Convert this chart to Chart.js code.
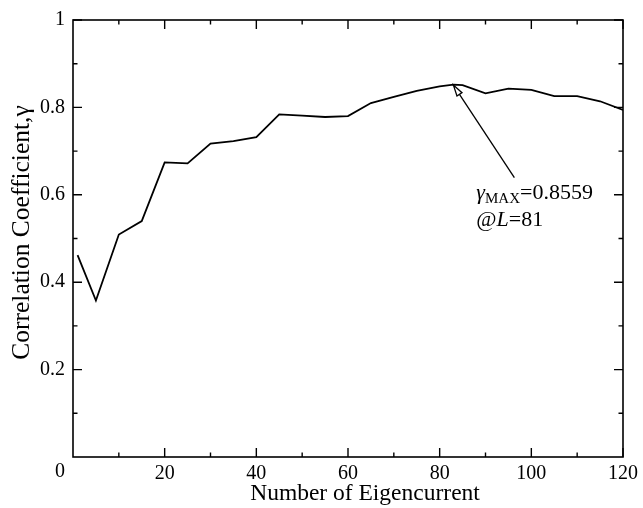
<!DOCTYPE html>
<html><head><meta charset="utf-8">
<script src="https://cdn.jsdelivr.net/npm/chart.js@4/dist/chart.umd.min.js"></script>
<style>html,body{margin:0;padding:0;background:#fff}#wrap{width:643px;height:508px}</style>
</head><body><div id="wrap"><canvas id="c" width="643" height="508"></canvas></div>
<script>
// ---- data ----
const eigenCount  = [1, 5, 10, 15, 20, 25, 30, 35, 40, 45, 50, 55, 60, 65, 70, 75, 80, 83, 85, 90, 95, 100, 105, 110, 115, 120];
const correlation = [0.462, 0.358, 0.509, 0.540, 0.674, 0.672, 0.717, 0.723, 0.732, 0.784, 0.781, 0.778, 0.780, 0.810, 0.824, 0.838, 0.848, 0.852, 0.851, 0.832, 0.843, 0.840, 0.826, 0.826, 0.814, 0.794];
const xTickValues = [20, 40, 60, 80, 100, 120];
const xTickLabels = ['20', '40', '60', '80', '100', '120'];
const xMinorValues = [10, 30, 50, 70, 90, 110];
const yTickValues = [0.2, 0.4, 0.6, 0.8, 1];
const yTickLabels = ['0.2', '0.4', '0.6', '0.8', '1'];
const yMinorValues = [0.1, 0.3, 0.5, 0.7, 0.9];
const originLabel = '0';
const xTitle = 'Number of Eigencurrent';
const yTitle = 'Correlation Coefficient,γ';
const peakText = { value: '0.8559', at: '81' };

// ---- annotation placement (data coords) ----
const arrowTip  = { x: 83, y: 0.851 };
const arrowTail = { x: 96.3, y: 0.6395 };
const textAnchor = { x: 88.0, y: 0.5896 };

const FONT = '"Liberation Serif", "Times New Roman", serif';

const framePlugin = {
  id: 'frame',
  afterDatasetsDraw(chart) {
    const { ctx, chartArea: a, scales: { x, y } } = chart;
    ctx.save();
    ctx.strokeStyle = '#000';
    ctx.lineWidth = 1.6;
    ctx.strokeRect(a.left, a.top, a.right - a.left, a.bottom - a.top);
    ctx.lineWidth = 1.4;
    ctx.beginPath();
    const xt = (vals, len) => vals.forEach(v => {
      const p = x.getPixelForValue(v);
      ctx.moveTo(p, a.bottom); ctx.lineTo(p, a.bottom - len);
      ctx.moveTo(p, a.top); ctx.lineTo(p, a.top + len);
    });
    const yt = (vals, len) => vals.forEach(v => {
      const p = y.getPixelForValue(v);
      ctx.moveTo(a.left, p); ctx.lineTo(a.left + len, p);
      ctx.moveTo(a.right, p); ctx.lineTo(a.right - len, p);
    });
    xt(xTickValues, 9); xt(xMinorValues, 4.5);
    yt(yTickValues, 9); yt(yMinorValues, 4.5);
    ctx.stroke();

    ctx.fillStyle = '#000';
    // origin label
    ctx.font = '20px ' + FONT;
    ctx.textAlign = 'center';
    ctx.textBaseline = 'middle';
    ctx.fillText(originLabel, x.getPixelForValue(0) - 13, a.bottom + 15);

    // axis titles
    ctx.font = '23.5px ' + FONT;
    ctx.fillText(xTitle, (a.left + a.right) / 2 + 17, a.bottom + 37);
    ctx.save();
    ctx.translate(22, (a.top + a.bottom) / 2 - 6);
    ctx.rotate(-Math.PI / 2);
    ctx.font = '25.5px ' + FONT;
    ctx.fillText(yTitle, 0, 0);
    ctx.restore();

    // arrow
    const tx = x.getPixelForValue(arrowTip.x), ty = y.getPixelForValue(arrowTip.y);
    const sx = x.getPixelForValue(arrowTail.x), sy = y.getPixelForValue(arrowTail.y);
    const ang = Math.atan2(ty - sy, tx - sx);
    const hl = 11, hw = 3;
    const bx = tx - hl * Math.cos(ang), by = ty - hl * Math.sin(ang);
    ctx.lineWidth = 1.3;
    ctx.beginPath();
    ctx.moveTo(sx, sy); ctx.lineTo(bx, by);
    ctx.stroke();
    ctx.beginPath();
    ctx.moveTo(tx, ty);
    ctx.lineTo(bx + hw * Math.sin(ang), by - hw * Math.cos(ang));
    ctx.lineTo(bx - hw * Math.sin(ang), by + hw * Math.cos(ang));
    ctx.closePath();
    ctx.fillStyle = '#fff'; ctx.fill();
    ctx.stroke();

    // annotation text
    ctx.fillStyle = '#000';
    ctx.textAlign = 'left';
    ctx.textBaseline = 'alphabetic';
    let px = x.getPixelForValue(textAnchor.x), py = y.getPixelForValue(textAnchor.y);
    const seg = (t, f, dy) => { ctx.font = f; ctx.fillText(t, px, py + (dy || 0)); px += ctx.measureText(t).width; };
    const x0 = px;
    seg('γ', 'italic 22px ' + FONT);
    seg('MAX', '15px ' + FONT, 4);
    seg('=' + peakText.value, '22px ' + FONT);
    px = x0; py += 27;
    seg('@', '22px ' + FONT);
    seg('L', 'italic 22px ' + FONT);
    seg('=' + peakText.at, '22px ' + FONT);
    ctx.restore();
  }
};

new Chart(document.getElementById('c'), {
  type: 'line',
  data: {
    datasets: [{
      data: eigenCount.map((v, i) => ({ x: v, y: correlation[i] })),
      borderColor: '#000',
      borderWidth: 1.8,
      pointRadius: 0,
      tension: 0,
      fill: false
    }]
  },
  options: {
    responsive: false,
    animation: false,
    layout: { padding: { top: 16, right: 17, left: 0, bottom: 0 } },
    plugins: { legend: { display: false }, tooltip: { enabled: false } },
    scales: {
      x: {
        type: 'linear', min: 0, max: 120,
        afterBuildTicks: s => { s.ticks = xTickValues.map(v => ({ value: v })); },
        afterFit: s => { s.height = 51; },
        grid: { display: false, drawTicks: false },
        border: { display: false },
        ticks: {
          autoSkip: false, maxRotation: 0, padding: 5, color: '#000',
          font: { family: FONT, size: 20 },
          callback: (v, i) => xTickLabels[i]
        },
        title: { display: false }
      },
      y: {
        type: 'linear', min: 0, max: 1,
        afterBuildTicks: s => { s.ticks = yTickValues.map(v => ({ value: v })); },
        afterFit: s => { s.width = 73; },
        grid: { display: false, drawTicks: false },
        border: { display: false },
        ticks: {
          autoSkip: false, padding: 8, color: '#000',
          font: { family: FONT, size: 20 },
          callback: (v, i) => yTickLabels[i]
        },
        title: { display: false }
      }
    }
  },
  plugins: [framePlugin]
});
</script>
</body></html>
